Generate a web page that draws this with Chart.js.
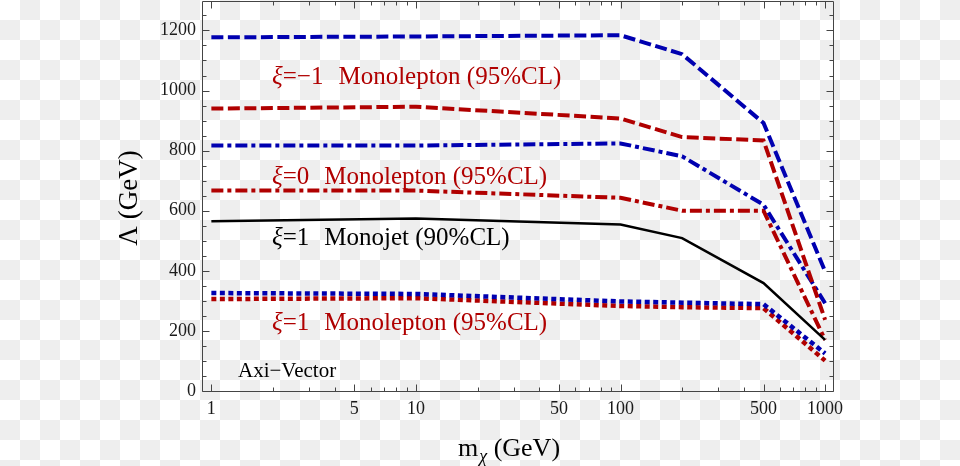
<!DOCTYPE html>
<html>
<head>
<meta charset="utf-8">
<script src="https://cdn.jsdelivr.net/npm/chart.js@4.4.1/dist/chart.umd.min.js"></script>
<style>
  html, body { margin: 0; padding: 0; }
  body {
    width: 960px;
    height: 466px;
    overflow: hidden;
    background: repeating-conic-gradient(#eeeeee 0 25%, #ffffff 0 50%) 0 0 / 40px 40px;
  }
</style>
</head>
<body>
<canvas id="limitChart" width="960" height="466"></canvas>
<script>
// dark matter mass (GeV) and lower limits on Lambda (GeV)
const masses = [1, 10, 100, 200, 500, 1000]
const xiMinus1Blue = [1177, 1180, 1184, 1121, 892, 398]
const xiMinus1Red = [940, 946, 907, 845, 834, 237]
const xi0Blue = [817, 817, 824, 781, 620, 292]
const xi0Red = [667, 667, 643, 600, 600, 170]
const xi1Monojet = [565, 574, 554, 509, 359, 170]
const xi1Blue = [326, 323, 298, 294, 289, 125]
const xi1Red = [306, 309, 283, 279, 276, 101]

const xTickLabels = [1, 5, 10, 50, 100, 500, 1000]
const yTickLabels = [0, 200, 400, 600, 800, 1000, 1200]

const BLUE = "#0000b0"
const RED = "#b00000"
const SERIF = "'Liberation Serif', 'DejaVu Serif', serif"

const toPoints = (arr) => masses.map((m, i) => ({ x: m, y: arr[i] }))

// minor ticks 1..9 per decade, plus 1000
const xTickValues = []
for (let d = 1; d <= 100; d *= 10) {
  for (let k = 1; k <= 9; k++) xTickValues.push(d * k)
}
xTickValues.push(1000)

const yTickValues = []
for (let v = 0; v <= 1250; v += 50) yTickValues.push(v)

function drawRuns(ctx, x, y, runs, size, color) {
  ctx.fillStyle = color
  ctx.textBaseline = "alphabetic"
  ctx.textAlign = "left"
  let cx = x
  runs.forEach((r) => {
    if (typeof r === "number") {
      cx += r
      return
    }
    ctx.font = (r[1] ? "italic " : "") + size + "px " + SERIF
    ctx.fillText(r[0], cx, y)
    cx += ctx.measureText(r[0]).width
  })
}

// frame with inward ticks on all four sides
const frameTicks = {
  id: "frameTicks",
  afterDatasetsDraw(chart) {
    const { ctx, chartArea: a, scales } = chart
    const L = Math.round(a.left) + 0.5
    const R = Math.round(a.right) + 0.5
    const T = Math.round(a.top) + 0.5
    const B = Math.round(a.bottom) + 0.5
    ctx.save()
    ctx.strokeStyle = "#444"
    ctx.lineWidth = 1
    ctx.beginPath()
    ctx.moveTo(L, T); ctx.lineTo(R, T); ctx.lineTo(R, B); ctx.lineTo(L, B); ctx.closePath()
    scales.x.ticks.forEach((t) => {
      const px = Math.round(scales.x.getPixelForValue(t.value)) + 0.5
      const len = xTickLabels.includes(t.value) ? 7 : 4
      ctx.moveTo(px, B); ctx.lineTo(px, B - len)
      ctx.moveTo(px, T); ctx.lineTo(px, T + len)
    })
    scales.y.ticks.forEach((t) => {
      const py = Math.round(scales.y.getPixelForValue(t.value)) + 0.5
      const len = yTickLabels.includes(t.value) ? 7 : 4
      ctx.moveTo(L, py); ctx.lineTo(L + len, py)
      ctx.moveTo(R, py); ctx.lineTo(R - len, py)
    })
    ctx.stroke()
    ctx.restore()
  },
}

// curve labels and axis titles
const labelsPlugin = {
  id: "labels",
  afterDraw(chart) {
    const { ctx } = chart
    ctx.save()
    drawRuns(ctx, 272, 83.5, [["ξ", true], ["=−1", false], 15, ["Monolepton (95%CL)", false]], 25, RED)
    drawRuns(ctx, 272, 183.5, [["ξ", true], ["=0", false], 15, ["Monolepton (95%CL)", false]], 25, RED)
    drawRuns(ctx, 272, 245, [["ξ", true], ["=1", false], 15, ["Monojet (90%CL)", false]], 25, "#000")
    drawRuns(ctx, 272, 330, [["ξ", true], ["=1", false], 15, ["Monolepton (95%CL)", false]], 25, RED)
    drawRuns(ctx, 238, 376.5, [["Axi−Vector", false]], 21, "#000")

    // x title: m_chi (GeV)
    ctx.fillStyle = "#000"
    ctx.textBaseline = "alphabetic"
    ctx.textAlign = "left"
    ctx.font = "26px " + SERIF
    let x = 458
    ctx.fillText("m", x, 456)
    x += ctx.measureText("m").width + 1
    ctx.font = "italic 18px " + SERIF
    ctx.fillText("χ", x, 462)
    x += ctx.measureText("χ").width
    ctx.font = "26px " + SERIF
    ctx.fillText(" (GeV)", x, 456)

    // y title
    ctx.translate(137, 198)
    ctx.rotate(-Math.PI / 2)
    ctx.textAlign = "center"
    ctx.font = "27px " + SERIF
    ctx.fillText("Λ (GeV)", 0, 0)
    ctx.restore()
  },
}

const lineStyle = (color, dash, width) => ({
  borderColor: color,
  borderWidth: width,
  borderDash: dash,
  pointRadius: 0,
  tension: 0,
  fill: false,
})

new Chart(document.getElementById("limitChart"), {
  type: "line",
  data: {
    datasets: [
      { label: "xi=1 Monojet", data: toPoints(xi1Monojet), ...lineStyle("#000", [], 2.5) },
      { label: "xi=-1 blue", data: toPoints(xiMinus1Blue), ...lineStyle(BLUE, [12, 4.5], 4) },
      { label: "xi=-1 red", data: toPoints(xiMinus1Red), ...lineStyle(RED, [12, 4.5], 4) },
      { label: "xi=0 blue", data: toPoints(xi0Blue), ...lineStyle(BLUE, [12, 4, 4, 4], 4) },
      { label: "xi=0 red", data: toPoints(xi0Red), ...lineStyle(RED, [12, 4, 4, 4], 4) },
      { label: "xi=1 blue", data: toPoints(xi1Blue), ...lineStyle(BLUE, [5, 3.5], 4.5) },
      { label: "xi=1 red", data: toPoints(xi1Red), ...lineStyle(RED, [5, 3.5], 4.5) },
    ],
  },
  options: {
    responsive: false,
    animation: false,
    events: [],
    layout: { padding: { top: 1, right: 127, left: 0, bottom: 0 } },
    plugins: {
      legend: { display: false },
      tooltip: { enabled: false },
    },
    scales: {
      x: {
        type: "logarithmic",
        min: 0.9,
        max: 1093,
        afterBuildTicks: (scale) => {
          scale.ticks = xTickValues.map((v) => ({ value: v }))
        },
        afterFit: (scale) => {
          scale.height = 75
          scale.paddingLeft = 0
          scale.paddingRight = 0
        },
        grid: { display: false, drawTicks: false },
        border: { display: false },
        ticks: {
          autoSkip: false,
          maxRotation: 0,
          padding: 7,
          color: "#1a1a1a",
          font: { family: SERIF, size: 18 },
          callback: (value) => (xTickLabels.includes(value) ? String(value) : ""),
        },
      },
      y: {
        min: 0,
        max: 1298,
        afterBuildTicks: (scale) => {
          scale.ticks = yTickValues.map((v) => ({ value: v }))
        },
        afterFit: (scale) => {
          scale.width = 202
          scale.paddingTop = 0
          scale.paddingBottom = 0
        },
        grid: { display: false, drawTicks: false },
        border: { display: false },
        ticks: {
          autoSkip: false,
          padding: 6,
          color: "#1a1a1a",
          font: { family: SERIF, size: 18 },
          callback: (value) => (yTickLabels.includes(value) ? String(value) : ""),
        },
      },
    },
  },
  plugins: [frameTicks, labelsPlugin],
})
</script>
</body>
</html>
